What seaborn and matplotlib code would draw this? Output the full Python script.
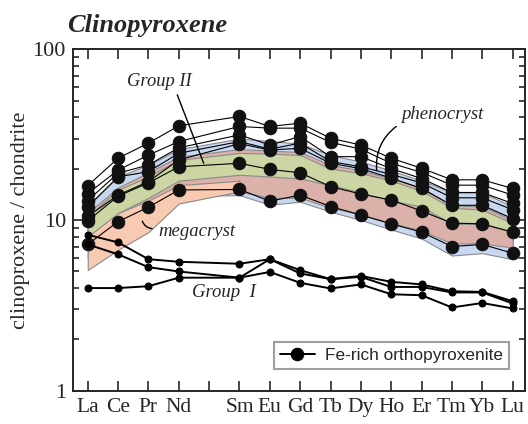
import numpy as np
import pandas as pd
import seaborn as sns
import matplotlib
matplotlib.use('Agg')
import matplotlib.pyplot as plt
from matplotlib.ticker import NullFormatter

# --- data -----------------------------------------------------------------
ree = ['La', 'Ce', 'Pr', 'Nd', 'Pm', 'Sm', 'Eu', 'Gd', 'Tb', 'Dy', 'Ho', 'Er', 'Tm', 'Yb', 'Lu']
measured = ['La', 'Ce', 'Pr', 'Nd', 'Sm', 'Eu', 'Gd', 'Tb', 'Dy', 'Ho', 'Er', 'Tm', 'Yb', 'Lu']
tick_labels = ['La', 'Ce', 'Pr', 'Nd', '', 'Sm', 'Eu', 'Gd', 'Tb', 'Dy', 'Ho', 'Er', 'Tm', 'Yb', 'Lu']

# Group II clinopyroxenes (phenocrysts + megacrysts), chondrite normalised
phenocryst = [
    [15.9, 23.0, 28.2, 35.6, 40.4, 35.3, 36.9, 30.1, 27.5, 23.0, 20.1, 17.2, 17.2, 15.3],
    [14.3, 19.6, 24.0, 28.8, 35.3, 34.5, 34.5, 28.5, 26.0, 21.5, 19.0, 16.0, 16.0, 14.0],
    [13.0, 18.8, 21.0, 26.5, 31.5, 27.5, 30.8, 23.5, 23.5, 20.0, 17.5, 14.5, 14.5, 12.5],
    [12.0, 17.9, 19.2, 24.6, 28.8, 26.0, 28.2, 22.0, 20.5, 18.5, 16.5, 13.5, 13.5, 11.5],
    [10.5, 14.0, 16.8, 22.5, 28.0, 25.7, 26.3, 21.5, 20.0, 17.6, 15.3, 12.2, 12.2, 10.2],
]
megacryst = [
    [9.9, 13.8, 16.5, 20.5, 21.5, 19.8, 18.9, 15.7, 14.2, 13.1, 11.3, 9.6, 9.5, 8.5],
    [7.2, 9.8, 11.9, 15.0, 15.1, 12.9, 14.0, 12.0, 10.7, 9.5, 8.5, 7.0, 7.2, 6.4],
]
# Group I (Fe-rich orthopyroxenite) clinopyroxenes
group1 = [
    [8.2, 7.4, 5.9, 5.7, 5.55, 5.9, 5.09, 4.51, 4.71, 4.35, 4.20, 3.83, 3.80, 3.35],
    [7.2, 6.3, 5.3, 5.0, 4.6, 5.9, 4.87, 4.51, 4.65, 4.06, 4.06, 3.77, 3.77, 3.25],
    [4.0, 4.0, 4.1, 4.6, 4.6, 4.97, 4.29, 3.98, 4.20, 3.68, 3.63, 3.08, 3.27, 3.04],
]

# shaded fields
blue_top = [12.0, 18.0, 21.0, 26.0, 30.0, 29.0, 28.0, 24.0, 22.0, 19.5, 17.0, 14.5, 14.5, 12.0]
blue_bot = [7.5, 9.5, 11.5, 13.8, 14.0, 12.3, 12.8, 11.2, 10.0, 8.8, 7.8, 6.2, 6.4, 5.9]
red_top = [11.0, 15.5, 19.0, 23.5, 26.0, 25.5, 25.0, 21.0, 19.5, 17.5, 15.5, 12.2, 12.0, 10.0]
red_bot = [6.0, 8.0, 10.5, 14.5, 14.7, 13.5, 13.5, 11.8, 10.8, 9.6, 8.7, 7.3, 7.3, 6.9]
green_top = [10.5, 15.0, 18.0, 22.5, 24.7, 24.5, 24.0, 20.0, 18.8, 17.0, 14.8, 11.8, 11.5, 9.6]
green_bot = [8.0, 11.0, 13.5, 17.0, 18.4, 18.0, 17.5, 16.0, 14.5, 13.0, 12.0, 9.5, 9.5, 8.5]
peach_elems = ['La', 'Ce', 'Pr', 'Nd', 'Sm']
peach_top = [9.5, 11.0, 13.0, 16.0, 17.0]
peach_bot = [5.1, 6.7, 8.5, 12.5, 14.7]

# --- plot -----------------------------------------------------------------
sns.set_style('ticks')
plt.rcParams['font.family'] = ['Liberation Serif', 'DejaVu Serif']

pos = {e: i for i, e in enumerate(ree)}
xm = [pos[e] for e in measured]

fig = plt.figure(figsize=(5.28, 4.24), dpi=100)
ax = fig.add_axes([0.138, 0.078, 0.857, 0.806])

edge = '#8a8a8a'
ax.fill_between(xm, blue_bot, blue_top, color='#c9d8f1', edgecolor=edge, lw=0.8, zorder=1)
ax.fill_between(xm, red_bot, red_top, color='#dcb1a9', edgecolor=edge, lw=0.8, zorder=1.1)
ax.fill_between([pos[e] for e in peach_elems], peach_bot, peach_top,
                color='#f9cab2', edgecolor=edge, lw=0.8, zorder=1.2)
ax.fill_between(xm, green_bot, green_top, color='#ccd6a4', edgecolor=edge, lw=0.8, zorder=1.3)

for row in phenocryst + megacryst:
    sns.lineplot(x=xm, y=row, ax=ax, color='black', lw=0.8, marker='o', markersize=9,
                 markeredgecolor='#111111', markerfacecolor='#111111', zorder=3)
for i, row in enumerate(group1):
    sns.lineplot(x=xm, y=row, ax=ax, color='black', lw=1.4, marker='o', markersize=5,
                 markeredgecolor='black', markerfacecolor='black', zorder=3,
                 label='Fe-rich orthopyroxenite' if i == 0 else None)

ax.set_yscale('log')
ax.set_ylim(1, 100)
ax.set_xlim(-0.49, 14.42)
ax.set_xticks(range(len(ree)), labels=tick_labels)
ax.set_yticks([1, 10, 100], labels=['1', '10', '100'])
ax.yaxis.set_minor_formatter(NullFormatter())
ax.tick_params(which='both', direction='in', top=True, right=True, width=1.2)
ax.tick_params(which='major', length=7, pad=5)
ax.tick_params(which='minor', length=4)
ax.tick_params(axis='x', labelsize=15.5)
ax.tick_params(axis='y', labelsize=16)
for s in ax.spines.values():
    s.set_linewidth(1.4)
ax.set_ylabel('clinoproxene / chondrite', fontsize=16, labelpad=2)

fig.text(0.128, 0.925, 'Clinopyroxene', fontsize=19, fontweight='bold', style='italic', ha='left')

# annotations
ax.text(2.37, 64.5, 'Group II', style='italic', fontsize=13.3, ha='center', va='center')
ax.plot([2.95, 3.82], [54.1, 21.5], color='black', lw=1.0, zorder=4)
ax.text(11.69, 41.3, 'phenocryst', style='italic', fontsize=13.5, ha='center', va='center')
ax.annotate('', xy=(9.53, 18.8), xytext=(10.24, 36.1),
            arrowprops=dict(arrowstyle='-', color='black', lw=1.0,
                            connectionstyle='arc3,rad=0.3'), zorder=4)
ax.text(3.59, 8.62, 'megacryst', style='italic', fontsize=13.5, ha='center', va='center')
ax.annotate('', xy=(2.21, 8.89), xytext=(1.77, 10.2),
            arrowprops=dict(arrowstyle='-', color='black', lw=1.0,
                            connectionstyle='arc3,rad=0.4'), zorder=4)
ax.text(4.48, 3.78, 'Group  I', style='italic', fontsize=13.5, ha='center', va='center')

leg = ax.legend(loc='lower right', bbox_to_anchor=(0.983, 0.04), frameon=True, fancybox=False,
                handlelength=2.0, borderpad=0.35, handletextpad=0.6,
                prop={'family': 'Liberation Sans', 'size': 12.4})
leg.get_frame().set_edgecolor('#888888')
leg.get_frame().set_linewidth(1.5)
for h in leg.legend_handles:
    h.set_markersize(9)

fig.savefig('out.png', dpi=100)
